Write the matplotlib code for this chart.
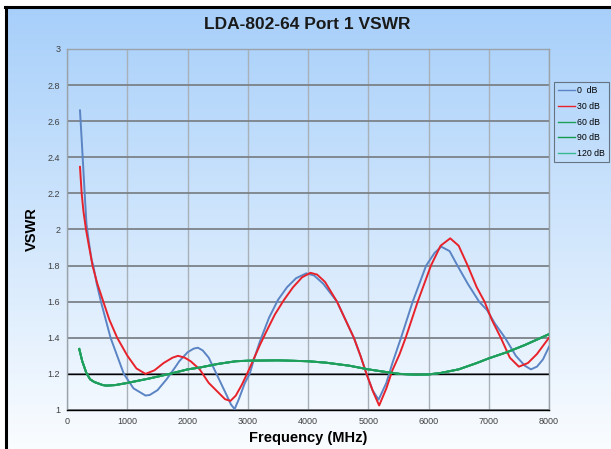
import matplotlib
matplotlib.use("Agg")
import matplotlib.pyplot as plt
import numpy as np
from matplotlib.patches import Rectangle
from matplotlib.lines import Line2D

plt.rcParams["font.family"] = ["Liberation Sans", "DejaVu Sans"]

# ── data ─────────────────────────────────────────────────────────────────────
freq_0db = [212, 240, 265, 290, 320, 360, 405, 433, 490, 560, 640, 720, 830, 940,
            1100, 1300, 1370, 1500, 1650, 1800, 1860, 2000, 2100, 2170, 2250,
            2350, 2450, 2550, 2650, 2720, 2780, 2850, 2950, 3030, 3100, 3200,
            3350, 3500, 3650, 3800, 3970, 4100, 4250, 4480, 4620, 4760, 4870,
            4970, 5070, 5170, 5300, 5400, 5543, 5737, 5960, 6100, 6210, 6350,
            6480, 6650, 6840, 6970, 7100, 7270, 7450, 7600, 7700, 7800, 7900, 8000]
vswr_0db = [2.66, 2.50, 2.35, 2.20, 2.03, 1.93, 1.83, 1.80, 1.70, 1.60, 1.50, 1.40,
            1.30, 1.20, 1.12, 1.08, 1.083, 1.11, 1.17, 1.24, 1.27, 1.32, 1.34, 1.345,
            1.33, 1.29, 1.22, 1.15, 1.08, 1.03, 1.005, 1.06, 1.15, 1.20, 1.28, 1.38,
            1.51, 1.61, 1.68, 1.73, 1.757, 1.745, 1.70, 1.60, 1.50, 1.40, 1.30,
            1.20, 1.11, 1.057, 1.15, 1.26, 1.40, 1.60, 1.80, 1.87, 1.905, 1.88,
            1.80, 1.70, 1.60, 1.554, 1.48, 1.40, 1.30, 1.245, 1.225, 1.24, 1.28, 1.35]

freq_30db = [212, 240, 270, 312, 360, 405, 420, 500, 600, 700, 830, 1000, 1150,
             1300, 1450, 1600, 1750, 1840, 1950, 2050, 2200, 2350, 2500, 2620,
             2710, 2800, 2900, 3000, 3080, 3200, 3300, 3450, 3600, 3750, 3900,
             4040, 4150, 4280, 4480, 4620, 4760, 4870, 4970, 5080, 5180, 5300,
             5400, 5520, 5620, 5820, 6040, 6200, 6360, 6500, 6650, 6800, 6930,
             7050, 7200, 7350, 7500, 7650, 7800, 8000]
vswr_30db = [2.347, 2.20, 2.10, 2.00, 1.91, 1.83, 1.80, 1.70, 1.60, 1.50, 1.40, 1.30,
             1.23, 1.20, 1.22, 1.26, 1.29, 1.30, 1.29, 1.27, 1.225, 1.15, 1.10, 1.06,
             1.05, 1.08, 1.14, 1.21, 1.27, 1.36, 1.43, 1.53, 1.61, 1.68, 1.735,
             1.76, 1.75, 1.71, 1.60, 1.50, 1.40, 1.30, 1.20, 1.10, 1.025, 1.12,
             1.22, 1.31, 1.40, 1.60, 1.80, 1.91, 1.951, 1.91, 1.80, 1.68, 1.60,
             1.50, 1.40, 1.29, 1.24, 1.26, 1.31, 1.40]

freq_att = [200, 250, 318, 380, 450, 590, 650, 800, 1000, 1370, 1700, 2000, 2200,
            2500, 2800, 3000, 3500, 4000, 4300, 4690, 5000, 5300, 5520, 5800,
            6000, 6200, 6500, 6800, 7000, 7300, 7600, 8000]
vswr_60db = [1.338, 1.27, 1.205, 1.17, 1.155, 1.138, 1.135, 1.138, 1.15, 1.175,
             1.20, 1.225, 1.235, 1.255, 1.27, 1.273, 1.275, 1.27, 1.262, 1.245,
             1.225, 1.21, 1.20, 1.195, 1.197, 1.205, 1.225, 1.26, 1.286, 1.32,
             1.36, 1.42]
vswr_90db = vswr_60db
vswr_120db = vswr_60db

labels = ["0  dB", "30 dB", "60 dB", "90 dB", "120 dB"]
colors = ["#5b84c4", "#e8222a", "#1f9e5a", "#149a4e", "#3cb890"]

# ── figure ───────────────────────────────────────────────────────────────────
fig = plt.figure(figsize=(6.11, 4.49), dpi=100)

# gradient background (light blue to white)
bg = fig.add_axes([0, 0, 1, 1], zorder=-10)
grad = np.linspace(0, 1, 256)[:, None]
top = np.array([0.65, 0.81, 0.98])
bot = np.array([0.98, 0.99, 1.0])
img = top[None, None, :] * (1 - grad[:, :, None]) + bot[None, None, :] * grad[:, :, None]
bg.imshow(img, aspect="auto", extent=[0, 1, 0, 1])
bg.set_xlim(0, 1)
bg.set_ylim(0, 1)
bg.axis("off")
# white margin + black frame on top/left
bg.add_patch(Rectangle((0, 0.986), 1, 0.014, color="white", zorder=2))
bg.add_patch(Rectangle((0, 0), 0.008, 1, color="white", zorder=2))
bg.add_line(Line2D([0.008, 1], [0.985, 0.985], color="black", lw=2.2, zorder=3))
bg.add_line(Line2D([0.01, 0.01], [0, 0.985], color="black", lw=2.2, zorder=3))

ax = fig.add_axes([0.1100, 0.0869, 0.7885, 0.804])
ax.patch.set_alpha(0)

series = [(freq_0db, vswr_0db), (freq_30db, vswr_30db), (freq_att, vswr_60db),
          (freq_att, vswr_90db), (freq_att, vswr_120db)]
handles = []
for (f, v), lab, c in zip(series, labels, colors):
    h, = ax.plot(f, v, color=c, lw=1.4, label=lab, zorder=3,
                 solid_joinstyle="round")
    handles.append(h)
# the darker green sits on top in the reference
ax.plot(freq_att, vswr_60db, color=colors[2], lw=1.4, zorder=3.1)

ax.set_xlim(0, 8000)
ax.set_ylim(1, 3)
ax.set_xticks(np.arange(0, 8001, 1000))
ax.set_yticks(np.arange(1, 3.01, 0.2))
ax.set_yticklabels(["1", "1.2", "1.4", "1.6", "1.8", "2", "2.2", "2.4", "2.6", "2.8", "3"])
ax.tick_params(length=0, labelsize=6.5, colors="#404040", pad=5)

ax.xaxis.grid(True, color="#a8b0b8", lw=1.0)
ax.yaxis.grid(True, color="#7c8288", lw=1.3)
ax.axhline(1.2, color="black", lw=1.0, zorder=2)
ax.set_axisbelow(True)
for side in ["top", "right", "left"]:
    ax.spines[side].set_color("#9aa2aa")
    ax.spines[side].set_linewidth(1.0)
ax.spines["bottom"].set_color("black")
ax.spines["bottom"].set_linewidth(1.0)

ax.set_xlabel("Frequency (MHz)", fontsize=10.5, fontweight="bold", labelpad=4)
ax.set_ylabel("VSWR", fontsize=10.5, fontweight="bold", labelpad=6)

fig.text(0.503, 0.946, "LDA-802-64 Port 1 VSWR", ha="center", va="center",
         fontsize=12.5, fontweight="bold", color="#1a1a1a")

leg = fig.legend(handles=handles, labels=labels, loc="upper left",
                 bbox_to_anchor=(0.902, 0.823), fontsize=6.3, frameon=True,
                 handlelength=1.9, handletextpad=0.25, labelspacing=0.75,
                 borderpad=0.5, borderaxespad=0.3, fancybox=False)
leg.get_frame().set_edgecolor("#505a64")
leg.get_frame().set_facecolor("none")
leg.get_frame().set_linewidth(0.8)
for line in leg.get_lines():
    line.set_linewidth(1.0)

fig.savefig("out.png", dpi=100)
